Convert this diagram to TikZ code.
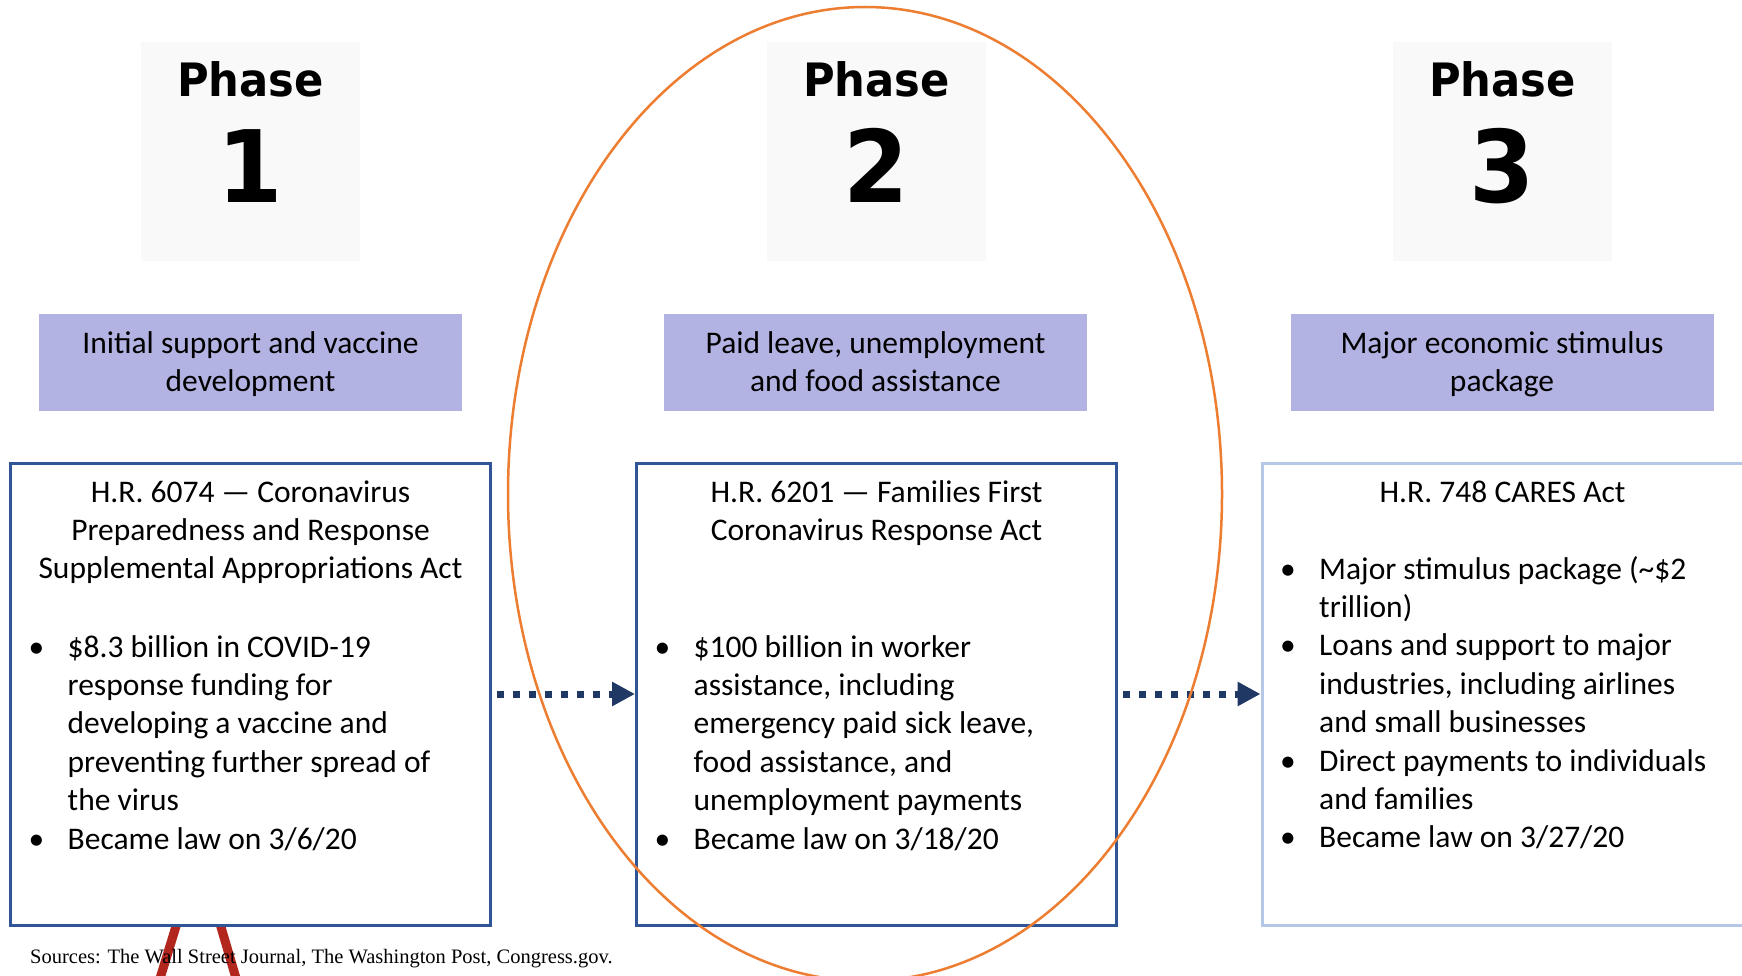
\documentclass[tikz,border=0pt]{standalone}
\usepackage{fontspec}
\setmainfont{Carlito}
\newfontfamily\phasefont[FakeStretch=0.94]{DejaVu Sans}
\newfontfamily\srcfont{Liberation Serif}
\usetikzlibrary{arrows.meta}

\definecolor{phasegray}{HTML}{F9F9F9}
\definecolor{topicfill}{HTML}{B3B3E3}
\definecolor{boxblue}{HTML}{2F5597}
\definecolor{boxlight}{HTML}{B4C7E7}
\definecolor{arrowblue}{HTML}{203864}
\definecolor{ringorange}{HTML}{ED7D31}
\definecolor{legred}{HTML}{B3261E}

% centred lines, baseline on the first one
\newcommand{\stack}[1]{\begin{tabular}[t]{@{}c@{}}#1\end{tabular}}
% bullet list with hanging lines
\newcommand{\itemdot}{\makebox[39pt][l]{\textbullet}}
\newcommand{\points}[1]{\begin{tabular}[t]{@{}l@{}l@{}}#1\end{tabular}}

\begin{document}
\begin{tikzpicture}[x=1pt, y=-1pt,
    phasebox/.style={fill=phasegray, minimum width=219pt, minimum height=219pt, inner sep=0pt},
    phaselbl/.style={font=\phasefont\bfseries\fontsize{46}{46}\selectfont, inner sep=0pt, anchor=base},
    phasenum/.style={font=\phasefont\bfseries\fontsize{100}{100}\selectfont, inner sep=0pt, anchor=base},
    topic/.style={fill=topicfill, minimum width=423pt, minimum height=97pt, inner sep=0pt},
    body/.style={font=\fontsize{31.5}{38.4}\selectfont, inner sep=0pt},
    lawbox/.style={draw=boxblue, line width=3pt, fill=white, minimum width=480pt, minimum height=462pt, inner sep=0pt},
    flow/.style={draw=arrowblue, line width=7pt, dash pattern=on 7pt off 9pt, shorten <=5pt,
                 -{Triangle[length=23pt,width=23pt]}},
    ring/.style={draw=ringorange, line width=2.5pt},
    leg/.style={draw=legred, line width=9pt},
    source/.style={font=\srcfont\fontsize{20.5}{24}\selectfont, inner sep=0pt}
]
\useasboundingbox (0,0) rectangle (1742,976);
\fill[white] (0,0) rectangle (1742,976);

% legs peeking out under the first box
\draw[leg] (181,910) -- (158,985);
\draw[leg] (216,910) -- (238,985);

% phase headers
\foreach \n/\cx in {1/250.5,2/876.5,3/1502.5}{
  \node[phasebox] (phase\n) at (\cx,151.5) {};
  \node[phaselbl] (phaselbl\n) at (\cx,97) {Phase};
  \node[phasenum] (phasenum\n) at (\cx,203) {\n};
}

% topics
\node[topic] (topic1) at (250.5,362.5) {};
\node[topic] (topic2) at (875.5,362.5) {};
\node[topic] (topic3) at (1502,362.5) {};
\node[body, anchor=base] at (250.5,353) {\stack{Initial support and vaccine\\ development}};
\node[body, anchor=base] at (875.5,353) {\stack{Paid leave, unemployment\\ and food assistance}};
\node[body, anchor=base] at (1502,353) {\stack{Major economic stimulus\\ package}};

% bills
\node[lawbox] (law1) at (250.5,694) {};
\node[lawbox] (law2) at (876.5,694) {};
\node[lawbox, draw=boxlight, minimum width=484pt] (law3) at (1504,694) {};

\node[body, anchor=base] (head1) at (250.5,502)
  {\stack{H.R. 6074 — Coronavirus\\ Preparedness and Response\\ Supplemental Appropriations Act}};
\node[body, anchor=base west] (list1) at (28.5,657) {\points{
  \itemdot & \$8.3 billion in COVID-19\\
           & response funding for\\
           & developing a vaccine and\\
           & preventing further spread of\\
           & the virus\\
  \itemdot & Became law on 3/6/20}};

\node[body, anchor=base] (head2) at (876.5,502)
  {\stack{H.R. 6201 — Families First\\ Coronavirus Response Act}};
\node[body, anchor=base west] (list2) at (654.5,657) {\points{
  \itemdot & \$100 billion in worker\\
           & assistance, including\\
           & emergency paid sick leave,\\
           & food assistance, and\\
           & unemployment payments\\
  \itemdot & Became law on 3/18/20}};

\node[body, anchor=base] (head3) at (1502.5,502) {H.R. 748 CARES Act};
\node[body, anchor=base west] (list3) at (1280,579) {\points{
  \itemdot & Major stimulus package (\textasciitilde\$2\\
           & trillion)\\
  \itemdot & Loans and support to major\\
           & industries, including airlines\\
           & and small businesses\\
  \itemdot & Direct payments to individuals\\
           & and families\\
  \itemdot & Became law on 3/27/20}};

% phase to phase
\draw[flow] (law1.east) -- (law2.west);
\draw[flow] (law2.east) -- (law3.west);

% highlight on phase 2
\draw[ring] (865,494) ellipse [x radius=357pt, y radius=487pt];

\node[source, anchor=base west] (src) at (30,963)
  {Sources: The Wall Street Journal, The Washington Post, Congress.gov.};
\end{tikzpicture}
\end{document}
